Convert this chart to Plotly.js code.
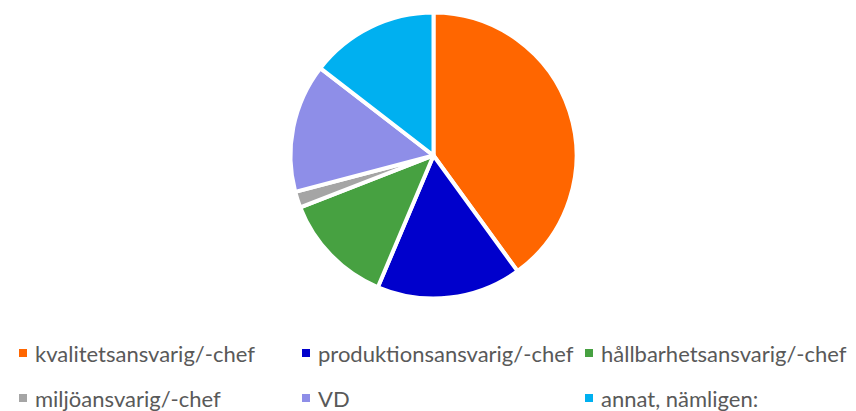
<!DOCTYPE html>
<html><head><meta charset="utf-8">
<script src="https://cdn.plot.ly/plotly-3.0.1.min.js"></script>
<style>html,body{margin:0;padding:0;background:#fff}</style>
</head><body><div id="chart" style="width:856px;height:411px"></div>
<script>
const labels = ["kvalitetsansvarig/-chef","produktionsansvarig/-chef","hållbarhetsansvarig/-chef","miljöansvarig/-chef","VD","annat, nämligen:"];
const values = [22, 9, 7, 1, 8, 8];
const colors = ["#FF6600","#0000CC","#47A141","#A5A5A5","#8E8EE8","#00B0F0"];

const W = 856, H = 411;
const cx = 433.5, cy = 155.5, r = 143;
const colX = [19, 302, 585];
const rowY = [353, 398];

const shapes = [], annotations = [];
labels.forEach((lab, i) => {
  const c = i % 3, rw = Math.floor(i / 3);
  const x0 = colX[c], yc = rowY[rw];
  shapes.push({type:'rect', xref:'paper', yref:'paper',
    x0: x0 / W, x1: (x0 + 8) / W, y0: (H - yc - 4) / H, y1: (H - yc + 4) / H,
    fillcolor: colors[i], line:{width:0}});
  annotations.push({xref:'paper', yref:'paper', x:(x0 + 14) / W, y:(H - yc) / H,
    xanchor:'left', yanchor:'middle', showarrow:false, text: lab,
    font:{family:'Lato, sans-serif', size:22, color:'#595959'}});
});

const data = [{
  type:'pie', labels: labels, values: values, sort:false, direction:'clockwise', rotation:0,
  marker:{colors: colors, line:{color:'#FFFFFF', width:4}},
  textinfo:'none', hoverinfo:'label+value',
  domain:{x:[(cx - r) / W, (cx + r) / W], y:[(H - cy - r) / H, (H - cy + r) / H]}
}];
const layout = {width:W, height:H, margin:{l:0,r:0,t:0,b:0}, showlegend:false,
  paper_bgcolor:'#fff', shapes: shapes, annotations: annotations};
Plotly.newPlot('chart', data, layout, {displayModeBar:false, staticPlot:true});
</script></body></html>
